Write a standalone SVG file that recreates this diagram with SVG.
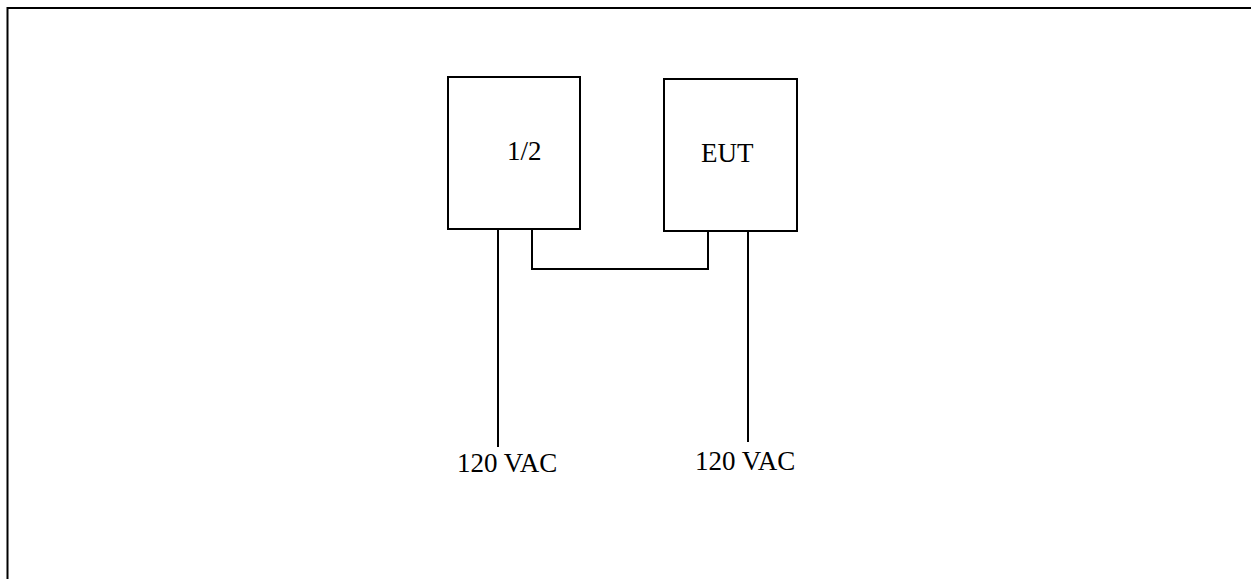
<svg xmlns="http://www.w3.org/2000/svg" width="1251" height="579" viewBox="0 0 1251 579">
<style>
.box{fill:#fff;stroke:#000;stroke-width:2}
.wire{fill:none;stroke:#000;stroke-width:2}
.lbl{font-family:"Liberation Serif","Times New Roman",serif;font-size:27px;fill:#000}
</style>
<rect width="1251" height="579" fill="#fff"/>
<g id="frame"><path class="wire" d="M7.5,600 V8 H1260"/></g>
<g id="connectors">
<path class="wire" d="M498,229 V447"/>
<path class="wire" d="M532,229 V269 H708 V231"/>
<path class="wire" d="M748,231 V442"/>
</g>
<g id="node-half"><rect class="box" x="448" y="77" width="132" height="152"/><text class="lbl" x="507" y="160">1/2</text></g>
<g id="node-eut"><rect class="box" x="664" y="79" width="133" height="152"/><text class="lbl" x="701" y="162">EUT</text></g>
<g id="label-ac1"><text class="lbl" x="457" y="472">120 VAC</text></g>
<g id="label-ac2"><text class="lbl" x="695" y="470">120 VAC</text></g>
</svg>
